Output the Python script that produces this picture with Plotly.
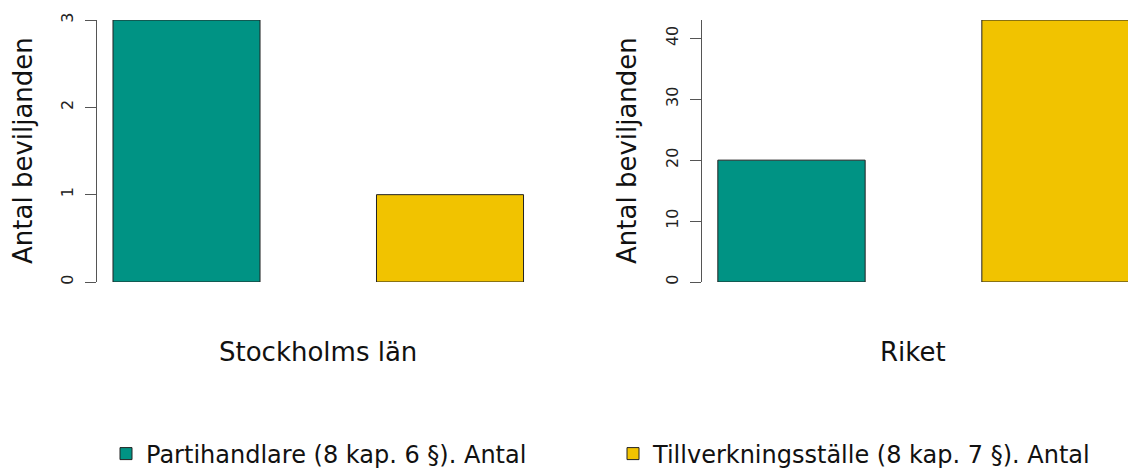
import plotly.graph_objects as go

# ---- data ----
regions = ["Stockholms län", "Riket"]
series_names = ["Partihandlare (8 kap. 6 §). Antal", "Tillverkningsställe (8 kap. 7 §). Antal"]
stockholm_values = [3, 1]
riket_values = [20, 43]
left_ticks = [0, 1, 2, 3]
right_ticks = [0, 10, 20, 30, 40]
y_title = "Antal beviljanden"
colors = ["#009384", "#F1C300"]

W, H = 1128, 468
FONT = "DejaVu Sans"

def px_x(p):
    return p / W

def px_y(p):
    return 1 - p / H

fig = go.Figure()
bar_w = 0.558
panels = [(stockholm_values, "x", "y"), (riket_values, "x2", "y2")]
for pi, (vals, xa, ya) in enumerate(panels):
    for si, name in enumerate(series_names):
        fig.add_trace(go.Bar(
            x=[si], y=[vals[si]], width=bar_w, name=name,
            marker=dict(color=colors[si], line=dict(color="#222222", width=1)),
            xaxis=xa, yaxis=ya, legendgroup=name, showlegend=(pi == 0),
            hoverinfo="skip",
        ))

ydom = [px_y(282), px_y(20)]
axis_common = dict(showgrid=False, zeroline=False, showline=True, linecolor="#555555",
                   linewidth=1, ticks="outside", ticklen=11, tickcolor="#555555",
                   tickangle=-90, tickfont=dict(family=FONT, size=16, color="#222222"),
                   ticklabelstandoff=6)

fig.update_layout(
    width=W, height=H,
    margin=dict(l=0, r=0, t=0, b=0, autoexpand=False),
    paper_bgcolor="white", plot_bgcolor="white",
    barmode="overlay",
    xaxis=dict(domain=[px_x(97), px_x(540)], range=[-0.3397, -0.3397 + (540 - 97) / 263.5],
               visible=False),
    xaxis2=dict(domain=[px_x(702), 1.0], range=[-0.339, (1128 - 791.5) / 264.0],
                visible=False),
    yaxis=dict(domain=ydom, range=[0, 3], tickvals=left_ticks, anchor="x", **axis_common),
    yaxis2=dict(domain=ydom, range=[0, 43], tickvals=right_ticks, anchor="x2", **axis_common),
    legend=dict(orientation="h", x=px_x(106), xanchor="left", y=px_y(454), yanchor="middle",
                font=dict(family=FONT, size=24, color="#111111"), entrywidth=462,
                entrywidthmode="pixels", traceorder="normal", itemwidth=30,
                tracegroupgap=0),
    showlegend=True,
)

ann = []
ann.append(dict(text=regions[0], x=px_x(318), y=px_y(352), xref="paper", yref="paper",
                showarrow=False, font=dict(family=FONT, size=26, color="#111111"),
                xanchor="center", yanchor="middle"))
ann.append(dict(text=regions[1], x=px_x(913), y=px_y(352), xref="paper", yref="paper",
                showarrow=False, font=dict(family=FONT, size=26, color="#111111"),
                xanchor="center", yanchor="middle"))
for cx in (23, 627):
    ann.append(dict(text=y_title, x=px_x(cx), y=px_y(151), xref="paper", yref="paper",
                    showarrow=False, textangle=-90,
                    font=dict(family=FONT, size=26, color="#111111"),
                    xanchor="center", yanchor="middle"))
fig.update_layout(annotations=ann)

fig.write_html("out.html", config={"displayModeBar": False},
               post_script="document.body.style.margin='0';document.body.style.overflow='hidden';")
